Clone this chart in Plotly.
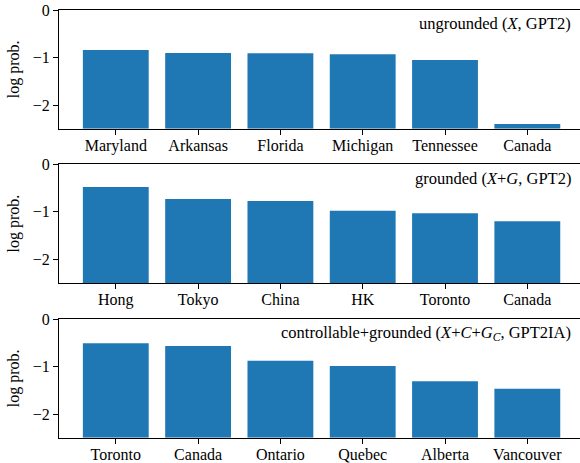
import plotly.graph_objects as go
from plotly.subplots import make_subplots

cats1 = ["Maryland", "Arkansas", "Florida", "Michigan", "Tennessee", "Canada"]
vals1 = [-0.84, -0.905, -0.91, -0.93, -1.05, -2.40]
cats2 = ["Hong", "Tokyo", "China", "HK", "Toronto", "Canada"]
vals2 = [-0.48, -0.73, -0.77, -0.98, -1.03, -1.20]
cats3 = ["Toronto", "Canada", "Ontario", "Quebec", "Alberta", "Vancouver"]
vals3 = [-0.51, -0.57, -0.88, -0.99, -1.31, -1.47]
labels = ["ungrounded (<i>X</i>, GPT2)",
          "grounded (<i>X</i>+<i>G</i>, GPT2)",
          "controllable+grounded (<i>X</i>+<i>C</i>+<i>G</i><sub><i>C</i></sub>, GPT2IA)"]

YMIN = -2.5
W, H = 580, 463
FONT = "Liberation Serif"

fig = make_subplots(rows=3, cols=1)
panels = [(cats1, vals1), (cats2, vals2), (cats3, vals3)]
tops = [10, 164.3, 319]
scale = 47.5
for i, (c, v) in enumerate(panels):
    r = i + 1
    fig.add_trace(go.Bar(
        x=list(range(len(c))), y=[val - YMIN for val in v], base=YMIN,
        width=0.8, marker=dict(color="#1f77b4", line=dict(width=0)),
        showlegend=False), row=r, col=1)
    top = tops[i]
    bot = top + 2.5 * scale
    dom = [1 - bot / H, 1 - top / H]
    xa = "xaxis" if r == 1 else f"xaxis{r}"
    ya = "yaxis" if r == 1 else f"yaxis{r}"
    fig.layout[xa].update(
        domain=[0, 1], range=[-0.69, 5.64], tickmode="array",
        tickvals=list(range(len(c))), ticktext=c, automargin=False,
        ticks="outside", ticklen=5, tickwidth=1, tickcolor="black",
        showline=True, linecolor="black", linewidth=1, mirror=True,
        showgrid=False, zeroline=False, ticklabelstandoff=-3,
        tickfont=dict(family=FONT, size=16, color="black"))
    fig.layout[ya].update(
        domain=dom, range=[YMIN, 0], tickmode="array", automargin=False,
        tickvals=[0, -1, -2], ticktext=["0", "\u22121", "\u22122"],
        ticks="outside", ticklen=5, tickwidth=1, tickcolor="black",
        showline=True, linecolor="black", linewidth=1,
        showgrid=False, zeroline=False,
        tickfont=dict(family=FONT, size=16, color="black"),
        title=dict(text="log prob.", font=dict(family=FONT, size=16, color="black"),
                   standoff=9))
    fig.add_annotation(
        text=labels[i], xref="paper", yref="paper",
        x=572 / W, y=1 - (top + 14) / H, xanchor="right", yanchor="middle",
        showarrow=False, font=dict(family=FONT, size=16.5, color="black"))

fig.update_layout(
    width=W, height=H, margin=dict(l=59, r=0, t=0, b=0, autoexpand=False),
    plot_bgcolor="white", paper_bgcolor="white", bargap=0.2,
    font=dict(family=FONT, size=16, color="black"))

fig.write_html("out.html", config={"displayModeBar": False},
               post_script="document.body.style.margin='0';document.body.style.overflow='hidden';")
